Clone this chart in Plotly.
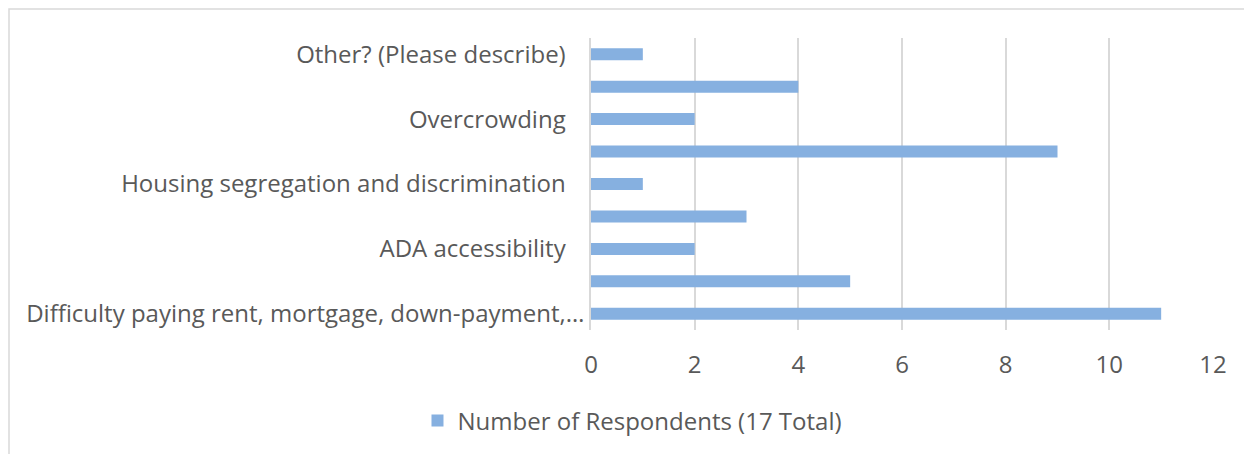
import plotly.graph_objects as go

# categories bottom -> top (only every other label is printed on the axis)
categories = [
    "Difficulty paying rent, mortgage, down-payment,…",
    "Lack of affordable housing",
    "ADA accessibility",
    "Poor housing conditions",
    "Housing segregation and discrimination",
    "Lack of housing options",
    "Overcrowding",
    "Homelessness",
    "Other? (Please describe)",
]
respondents = [11, 5, 2, 3, 1, 9, 2, 4, 1]
shown_labels = categories[::2]
x_ticks = [0, 2, 4, 6, 8, 10, 12]

BAR = "#86B0E0"
TEXT = "#595959"
GRID = "#D9D9D9"
FONT = "Open Sans"

# page body has an 8px margin, so the figure is a bit smaller than the window
W, H = 1244, 446
L, R, T, B = 583, 39, 30, 124
pw, ph = W - L - R, H - T - B

# the truncated first label sits closer to the axis than the others (Excel style)
pad = "\u00a0" * 3
tick_text = [shown_labels[0]] + [s + pad for s in shown_labels[1:]]

fig = go.Figure()
fig.add_trace(go.Bar(
    y=categories,
    x=respondents,
    orientation="h",
    name="Number of Respondents (17 Total)",
    marker=dict(color=BAR, line=dict(width=0)),
    width=0.37,
    showlegend=True,
))

fig.update_layout(
    width=W,
    height=H,
    margin=dict(l=L, r=R, t=T, b=B, autoexpand=False),
    paper_bgcolor="white",
    plot_bgcolor="white",
    font=dict(family=FONT, size=24, color=TEXT),
    xaxis=dict(
        range=[0, 12],
        tickvals=x_ticks,
        showgrid=True,
        gridcolor=GRID,
        gridwidth=1.6,
        zeroline=False,
        showline=False,
        ticks="",
        ticklabelstandoff=18,
        tickfont=dict(size=24, color=TEXT),
    ),
    yaxis=dict(
        type="category",
        categoryorder="array",
        categoryarray=categories,
        tickvals=shown_labels,
        ticktext=tick_text,
        showgrid=False,
        zeroline=False,
        showline=True,
        linecolor=GRID,
        linewidth=1.6,
        ticks="",
        ticklabelstandoff=0,
        tickfont=dict(size=24, color=TEXT),
    ),
    legend=dict(
        orientation="h",
        xref="container",
        yref="container",
        x=0.502,
        y=0.074,
        xanchor="center",
        yanchor="middle",
        font=dict(size=24, color=TEXT),
        itemwidth=30,
    ),
    shapes=[dict(
        type="rect",
        xref="paper",
        yref="paper",
        x0=(1 - L) / pw,
        x1=(W + 20 - L) / pw,
        y0=-(H + 20 - (H - B)) / ph,
        y1=1 + (T - 1) / ph,
        line=dict(color=GRID, width=1.5),
        fillcolor="rgba(0,0,0,0)",
        layer="below",
    )],
)

fig.write_html("out.html")
